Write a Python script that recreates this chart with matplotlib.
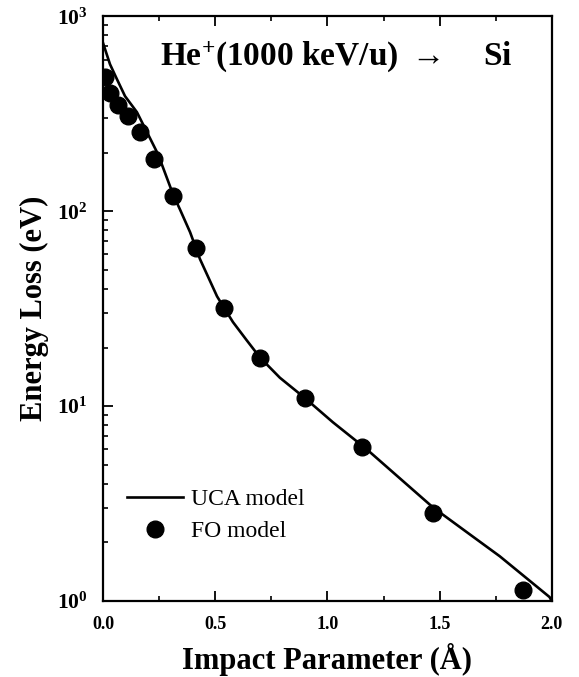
#!/usr/bin/env python3
# -*- coding: utf-8 -*-
"""
Energy loss vs impact parameter, He+ (1000 keV/u) on Si
"""

import matplotlib

matplotlib.use("Agg")
import matplotlib.pyplot as plt
import matplotlib.ticker as mticker

plt.rcParams["font.family"] = ["Liberation Serif", "DejaVu Serif"]
plt.rcParams["mathtext.fontset"] = "custom"
plt.rcParams["mathtext.rm"] = "Liberation Serif:bold"
plt.rcParams["mathtext.bf"] = "Liberation Serif:bold"
plt.rcParams["mathtext.it"] = "Liberation Serif:bold:italic"

# UCA model (lijn)
uca_b = [0.0, 0.031, 0.062, 0.098, 0.151, 0.196, 0.245, 0.312, 0.343, 0.388,
         0.432, 0.508, 0.539, 0.579, 0.64, 0.699, 0.788, 0.90, 1.024, 1.176,
         1.47, 1.621, 1.768, 1.99, 2.0]
uca_loss = [728, 567, 475, 389, 322, 254, 196, 122, 102, 78,
            56.8, 36.6, 32.0, 27.0, 21.8, 17.8, 14.0, 11.0, 8.28, 6.0,
            3.03, 2.26, 1.70, 1.05, 1.0]

# FO model (punten)
fo_b = [0.01, 0.031, 0.067, 0.111, 0.165, 0.227, 0.312, 0.414, 0.539,
        0.699, 0.90, 1.154, 1.47, 1.871]
fo_loss = [490, 403, 350, 307, 254, 185, 119, 64.6, 31.8,
           17.6, 11.0, 6.17, 2.83, 1.14]

x_ticks = [0.0, 0.5, 1.0, 1.5, 2.0]
x_tick_labels = ["0.0", "0.5", "1.0", "1.5", "2.0"]
y_ticks = [1, 10, 100, 1000]
y_tick_labels = [r"$10^{0}$", r"$10^{1}$", r"$10^{2}$", r"$10^{3}$"]

fig = plt.figure(figsize=(5.79, 6.77), dpi=100)
ax = fig.add_axes([0.178, 0.112, 0.775, 0.864])

ax.plot(uca_b, uca_loss, color="black", linewidth=1.9, label="UCA model")
ax.plot(fo_b, fo_loss, "o", color="black", markersize=12, label="FO model")

ax.set_yscale("log")
ax.set_xlim(0.0, 2.0)
ax.set_ylim(1, 1000)

ax.xaxis.set_major_locator(mticker.FixedLocator(x_ticks))
ax.xaxis.set_major_formatter(mticker.FixedFormatter(x_tick_labels))
ax.xaxis.set_minor_locator(mticker.MultipleLocator(0.25))
ax.yaxis.set_major_locator(mticker.FixedLocator(y_ticks))
ax.yaxis.set_major_formatter(mticker.FixedFormatter(y_tick_labels))
ax.yaxis.set_minor_locator(mticker.LogLocator(base=10, subs=range(2, 10)))
ax.yaxis.set_minor_formatter(mticker.NullFormatter())

ax.tick_params(axis="x", which="both", direction="in", top=True, bottom=True)
ax.tick_params(axis="y", which="both", direction="in", left=True, right=False)
ax.tick_params(which="major", length=7, width=1.3)
ax.tick_params(which="minor", length=3.5, width=1.2)
ax.tick_params(axis="x", which="major", labelsize=13, pad=11)
ax.tick_params(axis="y", which="major", labelsize=15.5, pad=11)
for lbl in ax.get_xticklabels():
    lbl.set_fontweight("bold")

for sp in ax.spines.values():
    sp.set_linewidth(1.6)

ax.set_xlabel("Impact Parameter (Å)", fontsize=22, fontweight="bold", labelpad=7)
ax.set_ylabel("Energy Loss (eV)", fontsize=22, fontweight="bold", labelpad=6)

ax.text(0.52, 0.932, r"He$^{+}$(1000 keV/u) $\rightarrow$    Si",
        transform=ax.transAxes, ha="center", va="center",
        fontsize=24, fontweight="bold")

ax.legend(loc="lower left", bbox_to_anchor=(0.005, 0.064), frameon=False,
          handlelength=2.4, handletextpad=0.35, labelspacing=0.45,
          prop={"family": "Liberation Serif", "size": 17})

plt.savefig("out.png", dpi=100)
